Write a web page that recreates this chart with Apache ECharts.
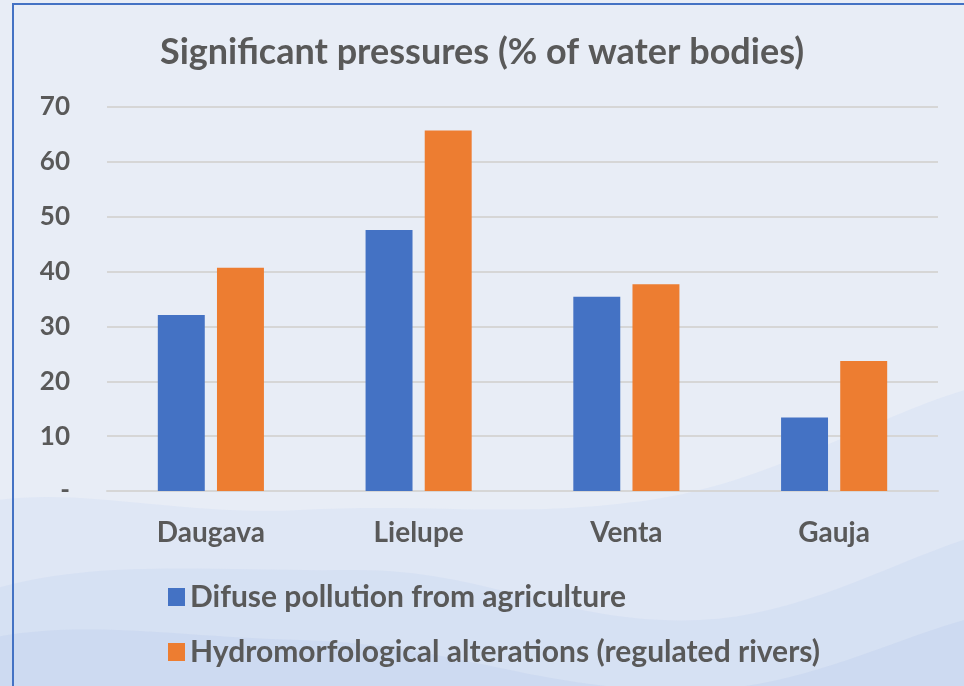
<!DOCTYPE html>
<html>
<head>
<meta charset="utf-8">
<script src="https://cdn.jsdelivr.net/npm/echarts@6/dist/echarts.min.js"></script>
<style>
  html, body { margin: 0; padding: 0; background: #e8edf6; }
  #chart { width: 964px; height: 686px; }
</style>
</head>
<body>
<div id="chart"></div>
<script>
var categories = ['Daugava', 'Lielupe', 'Venta', 'Gauja'];
var seriesNames = ['Difuse pollution from agriculture', 'Hydromorfological alterations (regulated rivers)'];
var agriculture = [32.1, 47.6, 35.4, 13.4];
var hydromorph = [40.7, 65.7, 37.7, 23.7];
var yTicks = [0, 10, 20, 30, 40, 50, 60, 70];

var chart = echarts.init(document.getElementById('chart'));
var font = 'Lato';
var textColor = '#595959';

// soft wave shapes for the slide background
function wave(points, fill) {
  return {
    type: 'polygon', silent: true, z: -10,
    shape: { points: points, smooth: 0.4 },
    style: { fill: fill }
  };
}

var option = {
  backgroundColor: '#e8edf6',
  animation: false,
  graphic: [
    wave([[-200, 900], [-100, 540], [300, 510], [650, 500], [1100, 400], [1200, 900]], 'rgba(216,227,245,0.6)'),
    wave([[-200, 900], [-100, 630], [350, 570], [700, 620], [1100, 540], [1200, 900]], 'rgba(203,217,241,0.45)'),
    wave([[-200, 900], [-100, 670], [300, 640], [700, 690], [1100, 620], [1200, 900]], 'rgba(192,208,237,0.4)'),
    { type: 'rect', silent: true, z: 10,
      shape: { x: 13, y: 4, width: 1000, height: 800 },
      style: { fill: 'none', stroke: '#4472c4', lineWidth: 2 } }
  ],
  title: {
    text: 'Significant pressures (% of water bodies)',
    left: 'center',
    top: 29,
    textStyle: { fontFamily: font, fontWeight: 'bold', fontSize: 36, color: textColor }
  },
  legend: {
    orient: 'vertical',
    left: 163,
    top: 577,
    itemWidth: 17,
    itemHeight: 18,
    itemGap: 25,
    icon: 'rect',
    textStyle: { fontFamily: font, fontWeight: 'bold', fontSize: 30, color: textColor },
    data: seriesNames
  },
  grid: { left: 107, right: 26, top: 107, bottom: 195 },
  xAxis: {
    type: 'category',
    data: categories,
    axisLine: { lineStyle: { color: '#d6d6d6', width: 2 } },
    axisTick: { show: false },
    axisLabel: { margin: 28, fontFamily: font, fontWeight: 'bold', fontSize: 28, color: textColor }
  },
  yAxis: {
    type: 'value',
    min: yTicks[0],
    max: yTicks[yTicks.length - 1],
    interval: 10,
    axisLine: { show: false },
    axisTick: { show: false },
    splitLine: { lineStyle: { color: '#d6d6d6', width: 2 } },
    axisLabel: {
      margin: 37, fontFamily: font, fontWeight: 'bold', fontSize: 26, color: textColor,
      formatter: function (v) { return v === 0 ? '-' : String(v); }
    }
  },
  series: [
    { name: seriesNames[0], type: 'bar', data: agriculture, barWidth: '22.6%', barGap: '26%',
      itemStyle: { color: '#4472c4' } },
    { name: seriesNames[1], type: 'bar', data: hydromorph, barWidth: '22.6%',
      itemStyle: { color: '#ed7d31' } }
  ]
};
chart.setOption(option);
</script>
</body>
</html>
